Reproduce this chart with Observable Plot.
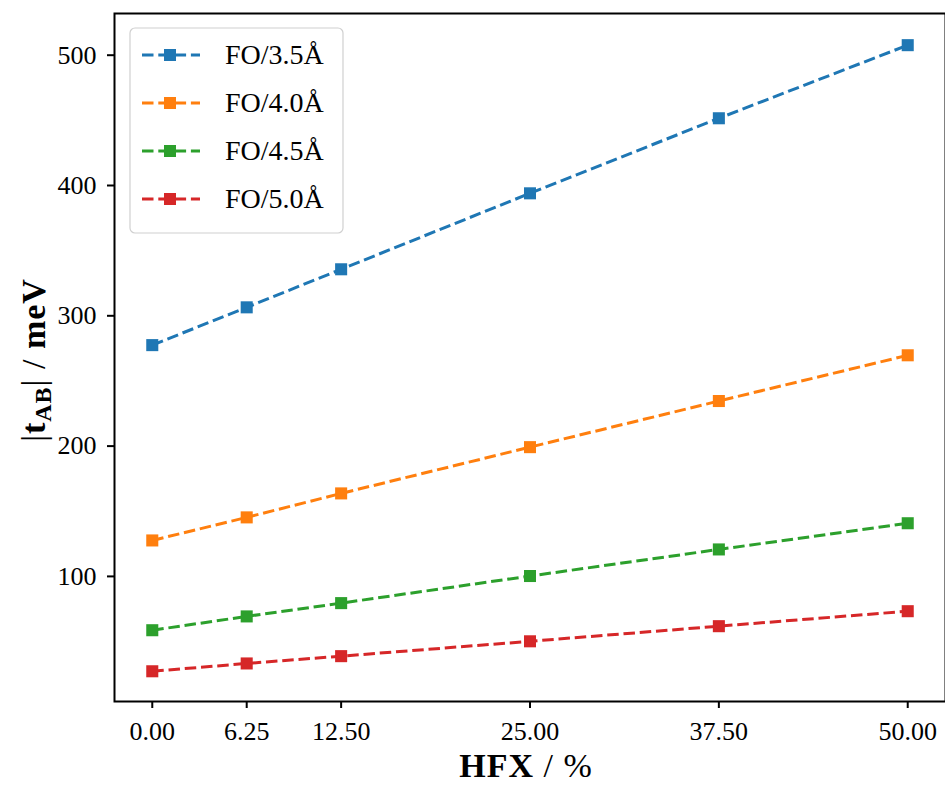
<!DOCTYPE html>
<html><head><meta charset="utf-8">
<script src="https://cdn.jsdelivr.net/npm/d3@7"></script>
<script src="https://cdn.jsdelivr.net/npm/@observablehq/plot@0.6"></script>
<style>body{margin:0;background:#fff} #chart{position:relative;width:945px;height:787px}</style>
</head><body><div id="chart"></div>
<script>
const hfx = [0, 6.25, 12.5, 25, 37.5, 50];
const seriesNames = ["FO/3.5Å", "FO/4.0Å", "FO/4.5Å", "FO/5.0Å"];
const fo35 = [277.5, 306.5, 335.7, 394.0, 451.6, 507.7];
const fo40 = [127.6, 145.3, 163.7, 199.2, 234.6, 269.7];
const fo45 = [58.7, 69.3, 79.5, 100.3, 120.7, 140.8];
const fo50 = [27.2, 33.2, 38.8, 50.2, 61.8, 73.3];
const colors = ["#1f77b4", "#ff7f0e", "#2ca02c", "#d62728"];
const xTicks = [0, 6.25, 12.5, 25, 37.5, 50];
const yTicks = [100, 200, 300, 400, 500];

const seriesValues = [fo35, fo40, fo45, fo50];
const rows = [];
seriesNames.forEach((s, i) => hfx.forEach((x, j) => rows.push({series: s, x, y: seriesValues[i][j]})));

const FONT = "'Liberation Serif', 'DejaVu Serif', serif";
const dash = "11.5,4.8";

const plot = Plot.plot({
  width: 945,
  height: 787,
  marginLeft: 114,
  marginRight: 0,
  marginTop: 13,
  marginBottom: 86,
  style: {fontFamily: FONT, fontSize: "26px", background: "white", color: "black"},
  x: {domain: [-2.5, 52.5]},
  y: {domain: [4, 532]},
  color: {domain: seriesNames, range: colors},
  marks: [
    Plot.line(rows, {x: "x", y: "y", z: "series", stroke: "series", strokeWidth: 3, strokeDasharray: dash, strokeLinecap: "butt"}),
    Plot.dot(rows, {x: "x", y: "y", fill: "series", symbol: "square", r: 6.8, stroke: null}),
    Plot.axisX({ticks: xTicks, tickFormat: d => d.toFixed(2), tickSize: 7, tickPadding: 13, strokeWidth: 2, fontSize: 26, label: null}),
    Plot.axisY({ticks: yTicks, tickFormat: d => String(d), tickSize: 7, tickPadding: 11, strokeWidth: 2, fontSize: 26, label: null}),
    Plot.frame({stroke: "black", strokeWidth: 2})
  ]
});
document.getElementById("chart").appendChild(plot);

const svg = d3.select(plot);

// Legend
const lg = svg.append("g").attr("font-family", FONT).attr("text-anchor", "start");
lg.append("rect").attr("x", 130).attr("y", 28).attr("width", 213).attr("height", 205)
  .attr("rx", 5).attr("fill", "white").attr("fill-opacity", 0.85).attr("stroke", "#d0d0d0").attr("stroke-width", 1.2);
seriesNames.forEach((s, i) => {
  const cy = 55 + i * 48;
  lg.append("line").attr("x1", 142).attr("x2", 200).attr("y1", cy).attr("y2", cy)
    .attr("stroke", colors[i]).attr("stroke-width", 3).attr("stroke-dasharray", dash);
  lg.append("rect").attr("x", 164).attr("y", cy - 6).attr("width", 12).attr("height", 12).attr("fill", colors[i]);
  lg.append("text").attr("x", 225).attr("y", cy + 9).attr("font-size", 28).attr("fill", "black")
    .attr("text-anchor", "start").text(s);
});

// X label
const xl = svg.append("text").attr("x", 526).attr("y", 777).attr("text-anchor", "middle")
  .attr("font-family", FONT).attr("font-size", 34).attr("fill", "black").attr("letter-spacing", 1);
xl.append("tspan").attr("font-weight", "bold").text("HFX");
xl.append("tspan").text(" / %");

// Y label
const yl = svg.append("text").attr("transform", "translate(45,360) rotate(-90)").attr("text-anchor", "middle")
  .attr("font-family", FONT).attr("font-size", 34).attr("fill", "black").attr("letter-spacing", 1);
yl.append("tspan").text("|");
yl.append("tspan").attr("font-weight", "bold").text("t");
yl.append("tspan").attr("font-weight", "bold").attr("font-size", 24).attr("dy", 6).text("AB");
yl.append("tspan").attr("dy", -6).text("|");
yl.append("tspan").text(" / ");
yl.append("tspan").attr("font-weight", "bold").text("meV");
</script>
</body></html>
